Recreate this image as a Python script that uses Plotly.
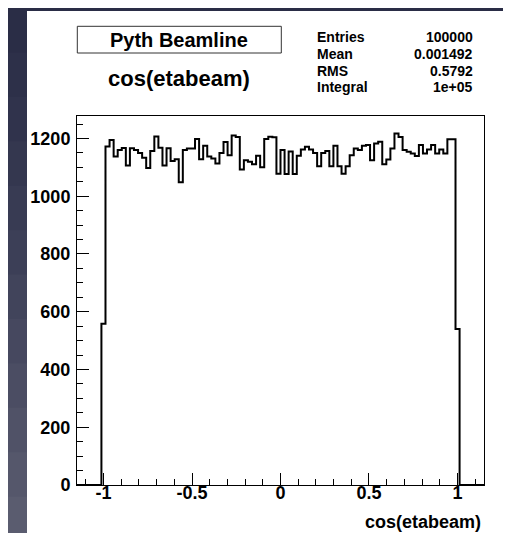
import plotly.graph_objects as go

# ---- histogram definition (ROOT TH1: 100 bins on [-1.15, 1.15]) ----
n_bins = 100
x_min = -1.15
x_max = 1.15

# bin contents, bins 0..99
counts_low_empty = [0, 0, 0, 0, 0, 0]            # bins 0-5
counts_edge_left = [558]                         # bin 6
counts_body = [                                  # bins 7-92
    1172, 1195, 1138, 1160, 1167, 1106, 1166, 1160, 1150, 1133,
    1098, 1157, 1207, 1168, 1106, 1166, 1122, 1128, 1048, 1160,
    1165, 1165, 1198, 1128, 1175, 1138, 1131, 1113, 1150, 1188,
    1142, 1210, 1205, 1093, 1125, 1119, 1111, 1140, 1100, 1198,
    1206, 1204, 1078, 1160, 1077, 1155, 1077, 1140, 1162, 1171,
    1162, 1150, 1104, 1150, 1157, 1104, 1175, 1104, 1078, 1104,
    1142, 1165, 1160, 1175, 1177, 1125, 1183, 1189, 1111, 1127,
    1165, 1217, 1205, 1160, 1154, 1148, 1139, 1177, 1148, 1162,
    1177, 1148, 1162, 1148, 1197, 1197,
]
counts_edge_right = [540]                        # bin 93
counts_high_empty = [0, 0, 0, 0, 0, 0]           # bins 94-99
counts = counts_low_empty + counts_edge_left + counts_body + counts_edge_right + counts_high_empty

x_tick_vals = [-1, -0.5, 0, 0.5, 1]
x_tick_text = ["-1", "-0.5", "0", "0.5", "1"]
y_tick_vals = [0, 200, 400, 600, 800, 1000, 1200]
y_tick_text = ["0", "200", "400", "600", "800", "1000", "1200"]

stat_names = ["Entries", "Mean", "RMS", "Integral"]
stat_values = ["100000", "0.001492", "0.5792", "1e+05"]

title_box_text = "Pyth Beamline"
hist_title = "cos(etabeam)"
x_title = "cos(etabeam)"

# ---- build step outline ----
width = (x_max - x_min) / n_bins
edges = [x_min + width * k for k in range(n_bins + 1)]
step_x = edges
step_y = counts + [counts[-1]]

FONT = "Liberation Sans, Arial, Helvetica, sans-serif"

fig = go.Figure()
fig.add_trace(go.Scatter(
    x=step_x, y=step_y, mode="lines",
    line=dict(color="black", width=2, shape="hv"),
    hoverinfo="skip", showlegend=False,
))

W, H = 511, 533
ML, MR, MT, MB = 69, 35, 108, 56
PW, PH = W - ML - MR, H - MT - MB


def px(xp):
    return (xp - ML) / PW


def py(yp):
    return (H - MB - yp) / PH


shapes = []
# dark slide background strips (left, with vertical gradient via bands; top)
band_colors = ["#2a2d46", "#2d3049", "#30334c", "#34374f", "#383b53", "#3c3f57",
               "#41445b", "#46485f", "#4b4d63", "#505267", "#55576b", "#5a5c6f"]
nb = len(band_colors)
for i, c in enumerate(band_colors):
    y0p = H * i / nb
    y1p = H * (i + 1) / nb + 1
    shapes.append(dict(type="rect", xref="paper", yref="paper",
                       x0=px(0), x1=px(19), y0=py(y1p), y1=py(y0p),
                       fillcolor=c, line=dict(width=0), layer="below"))
shapes.append(dict(type="rect", xref="paper", yref="paper",
                   x0=px(0), x1=px(W), y0=py(3), y1=py(0),
                   fillcolor="#2a2d46", line=dict(width=0), layer="below"))
# title box
shapes.append(dict(type="rect", xref="paper", yref="paper",
                   x0=px(69.3), x1=px(273.3), y0=py(45), y1=py(18.3),
                   line=dict(color="#333333", width=1), fillcolor="rgba(0,0,0,0)"))

annotations = [
    dict(text=title_box_text, x=px(171), y=py(31.7), xref="paper", yref="paper",
         showarrow=False, xanchor="center", yanchor="middle",
         font=dict(family=FONT, size=20, color="black", weight="bold")),
    dict(text=hist_title, x=px(170.5), y=py(70), xref="paper", yref="paper",
         showarrow=False, xanchor="center", yanchor="middle",
         font=dict(family=FONT, size=22, color="black", weight="bold")),
    dict(text=x_title, x=px(475), y=py(514), xref="paper", yref="paper",
         showarrow=False, xanchor="right", yanchor="middle",
         font=dict(family=FONT, size=18, color="black", weight="bold")),
]
row_y = [29.3, 45.8, 62.6, 79.0]
for name, val, yy in zip(stat_names, stat_values, row_y):
    annotations.append(dict(text=name, x=px(307), y=py(yy), xref="paper", yref="paper",
                            showarrow=False, xanchor="left", yanchor="middle",
                            font=dict(family=FONT, size=14, color="black", weight="bold")))
    annotations.append(dict(text=val, x=px(467), y=py(yy), xref="paper", yref="paper",
                            showarrow=False, xanchor="right", yanchor="middle",
                            font=dict(family=FONT, size=14, color="black", weight="bold")))

y_top = max(counts) * 1.05

fig.update_layout(
    width=W, height=H,
    margin=dict(l=ML, r=MR, t=MT, b=MB, pad=0),
    paper_bgcolor="white", plot_bgcolor="white",
    shapes=shapes, annotations=annotations,
    showlegend=False,
    xaxis=dict(
        range=[x_min, x_max], showgrid=False, zeroline=False,
        showline=True, linecolor="black", linewidth=1, mirror=True,
        tickmode="array", tickvals=x_tick_vals, ticktext=x_tick_text,
        ticks="inside", ticklen=12, tickwidth=1, tickcolor="black",
        minor=dict(tickmode="linear", tick0=0, dtick=0.1, ticks="inside",
                   ticklen=6, tickwidth=1, tickcolor="black", showgrid=False),
        tickfont=dict(family=FONT, size=18, color="black", weight="bold"),
        ticklabelstandoff=-9,
    ),
    yaxis=dict(
        range=[0, y_top], showgrid=False, zeroline=False,
        showline=True, linecolor="black", linewidth=1, mirror=True,
        tickmode="array", tickvals=y_tick_vals, ticktext=y_tick_text,
        ticks="inside", ticklen=12, tickwidth=1, tickcolor="black",
        minor=dict(tickmode="linear", tick0=0, dtick=50, ticks="inside",
                   ticklen=6, tickwidth=1, tickcolor="black", showgrid=False),
        tickfont=dict(family=FONT, size=18, color="black", weight="bold"),
        ticklabelstandoff=2,
    ),
)

fig.write_html("out.html")
